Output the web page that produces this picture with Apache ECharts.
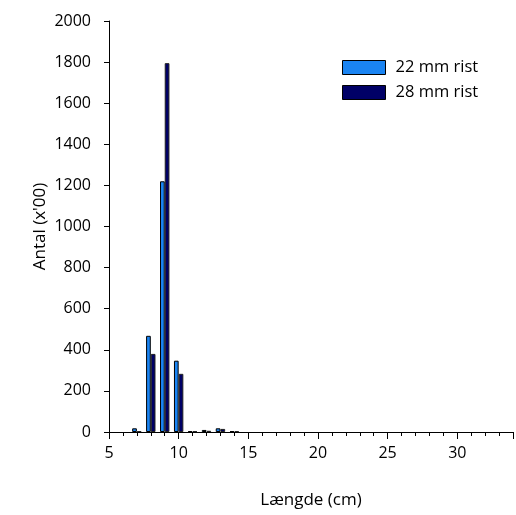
<!DOCTYPE html>
<html>
<head>
<meta charset="utf-8">
<script src="https://cdn.jsdelivr.net/npm/echarts@6/dist/echarts.min.js"></script>
<style>
  html, body { margin: 0; padding: 0; background: #fff; }
  #chart { width: 516px; height: 515px; }
</style>
</head>
<body>
<div id="chart"></div>
<script>
// Length classes (cm) and catch counts (x'00) for the two grid sizes
var lengths   = [7, 8, 9, 10, 11, 12, 13, 14];
var rist22    = [18, 468, 1220, 347, 4, 10, 18, 4];
var rist28    = [4, 380, 1795, 283, 4, 6, 15, 4];
var seriesNames = ['22 mm rist', '28 mm rist'];
var yTicks = [0, 200, 400, 600, 800, 1000, 1200, 1400, 1600, 1800, 2000];

function pairs(xs, ys) {
  return xs.map(function (x, i) { return [x, ys[i]]; });
}

var font = '"Open Sans", Lato, sans-serif';
var chart = echarts.init(document.getElementById('chart'), null, { renderer: 'canvas' });

chart.setOption({
  animation: false,
  backgroundColor: '#fff',
  grid: { left: 109, top: 21, bottom: 83, right: -4, containLabel: false },
  legend: {
    orient: 'vertical',
    left: 337, top: 54,
    padding: 5,
    icon: 'rect',
    itemWidth: 43, itemHeight: 14, itemGap: 8,
    textStyle: { fontFamily: font, fontSize: 16.5, color: '#000', padding: [0, 0, 0, 5] },
    itemStyle: { borderColor: '#000', borderWidth: 1 },
    data: seriesNames
  },
  xAxis: {
    type: 'value',
    min: 5, max: 34, interval: 5,
    name: 'Længde (cm)',
    nameLocation: 'middle',
    nameGap: 60,
    nameMoveOverlap: false,
    nameTextStyle: { fontFamily: font, fontSize: 17, color: '#000' },
    axisLine: { show: true, onZero: false, lineStyle: { color: '#000', width: 1 } },
    axisTick: { show: true, length: 7, lineStyle: { color: '#000' } },
    minorTick: { show: true, splitNumber: 5, length: 4, lineStyle: { color: '#000' } },
    splitLine: { show: false },
    axisLabel: {
      fontFamily: font, fontSize: 16, color: '#000', margin: 13,
      formatter: function (v) { return v % 5 === 0 ? String(v) : ''; }
    }
  },
  yAxis: {
    type: 'value',
    min: yTicks[0], max: yTicks[yTicks.length - 1], interval: 200,
    name: "Antal (x'00)",
    nameLocation: 'middle',
    nameGap: 60,
    nameMoveOverlap: false,
    nameTextStyle: { fontFamily: font, fontSize: 17, color: '#000' },
    axisLine: { show: true, lineStyle: { color: '#000', width: 1 } },
    axisTick: { show: true, length: 5, lineStyle: { color: '#000' } },
    splitLine: { show: false },
    axisLabel: {
      fontFamily: font, fontSize: 16, color: '#000', margin: 18,
      formatter: function (v) { return String(v); }
    }
  },
  series: [
    {
      name: seriesNames[0], type: 'bar',
      data: pairs(lengths, rist22),
      barWidth: 4.7, barGap: '0%',
      itemStyle: { color: '#1a84f2', borderColor: '#000', borderWidth: 1 }
    },
    {
      name: seriesNames[1], type: 'bar',
      data: pairs(lengths, rist28),
      barWidth: 4.7, barGap: '0%',
      itemStyle: { color: '#000066', borderColor: '#222', borderWidth: 1 }
    }
  ]
});
</script>
</body>
</html>
